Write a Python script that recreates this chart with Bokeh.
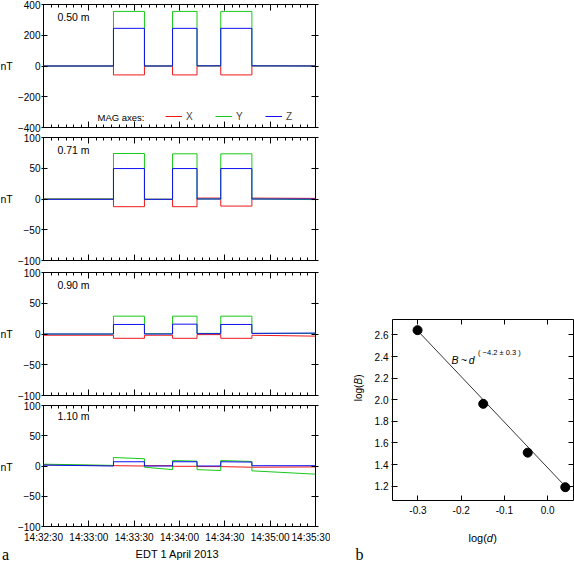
import math
from bokeh.plotting import figure
from bokeh.layouts import row, column
from bokeh.models import (Range1d, FixedTicker, LinearAxis, Label, Legend,
                          LegendItem, NumeralTickFormatter)
from bokeh.embed import file_html
from bokeh.resources import INLINE

# ---------------- data ----------------
# time axis: seconds after 14:32:30 EDT, 1 April 2013
time_ticks = [0, 30, 60, 90, 120, 150, 180]
time_labels = ["14:32:30", "14:33:00", "14:33:30", "14:34:00",
               "14:34:30", "14:35:00", "14:35:30"]
minor_time_ticks = [0, 5, 10, 15, 20, 25, 30, 35, 40, 45, 50, 55, 60, 65, 70,
                    75, 80, 85, 90, 95, 100, 105, 110, 115, 120, 125, 130, 135,
                    140, 145, 150, 155, 160, 165, 170, 175, 180]
x_axis_title = "EDT 1 April 2013"

# breakpoints of the step-like traces (seconds)
t_pts = [0, 46.3, 46.3, 66.8, 66.8, 85.4, 85.4, 101.6, 101.6, 117.3, 117.3,
         137.9, 137.9, 180]

distances = ["0.50 m", "0.71 m", "0.90 m", "1.10 m"]

x_050 = [0, 0, -58, -58, 0, 0, -58, -58, 1, 1, -58, -58, 1, 1]
y_050 = [0, 0, 355, 355, 0, 0, 355, 355, 1, 1, 355, 355, 1, 0]
z_050 = [0, 0, 245, 245, 0, 0, 245, 245, 1, 1, 245, 245, 1, 0]

x_071 = [0, 0, -12.5, -12.5, -0.5, -0.5, -12.5, -12.5, 1.5, 1.5, -11.5, -11.5, 1.5, 1]
y_071 = [0, 0, 74, 74, -0.5, -0.5, 73.5, 73.5, 0, 0, 73.5, 73.5, 0, -1]
z_071 = [-0.5, -0.5, 49.5, 49.5, -0.5, -0.5, 49.5, 49.5, 0, 0, 49.5, 49.5, 0, 0]

x_090 = [-2, -2, -7, -7, -2, -2, -7, -7, -1, -1, -7, -7, -2, -3.5]
y_090 = [0, 0, 29, 29, 0.5, 0.5, 29, 29, 1, 1, 29, 29, 1, 1]
z_090 = [0, 0, 15.5, 15.5, 0, 0, 16, 16, 0.5, 0.5, 15.5, 15.5, 1, 1.5]

x_110 = [2, 0.5, 0.5, 0, 0.5, 0.5, -0.5, -0.5, -1, -1, -1, -2, -2, -1.5]
y_110 = [3, 1, 14, 12, -2, -6, 9, 8, -6, -7.5, 9, 7.5, -8, -13.5]
z_110 = [1.5, 0, 7, 7, 0, 0, 7, 7, 0, 0, 7, 6.5, 0.5, 0.5]

series_x = [x_050, x_071, x_090, x_110]
series_y = [y_050, y_071, y_090, y_110]
series_z = [z_050, z_071, z_090, z_110]

y_limits = [(-400, 400), (-100, 100), (-100, 100), (-100, 100)]
y_ticks = [[-400, -200, 0, 200, 400], [-100, -50, 0, 50, 100],
           [-100, -50, 0, 50, 100], [-100, -50, 0, 50, 100]]
y_unit = "nT"

mag_axes = ["X", "Y", "Z"]

# panel b
log_d = [-0.301, -0.149, -0.046, 0.041]
log_B = [2.644, 1.962, 1.510, 1.190]
fit_log_d = [-0.301, 0.041]
fit_log_B = [2.640, 1.198]
b_xticks = [-0.3, -0.2, -0.1, 0.0]
b_yticks = [1.2, 1.4, 1.6, 1.8, 2.0, 2.2, 2.4, 2.6]

# ---------------- style ----------------
FONT = "Liberation Sans"
SERIF = "Liberation Serif"
RED, GREEN, BLUE = "#f01818", "#18c818", "#1010f0"
TICK_FS = "10px"


def hide_labels(ax):
    ax.major_label_text_color = None
    ax.major_label_standoff = 0
    ax.axis_label = None


def lab(fig, x, y, text, size="10px", style="normal", angle=0.0, font=FONT,
        align="left", baseline="middle"):
    fig.add_layout(Label(x=x, y=y, x_units="screen", y_units="screen", text=text,
                         text_font=font, text_font_size=size,
                         text_font_style=style, text_baseline=baseline,
                         text_align=align, angle=angle, text_color="black"))


def strip(w, h):
    s = figure(width=w, height=h, output_backend="svg", toolbar_location=None,
               x_range=Range1d(0, w), y_range=Range1d(0, h),
               x_axis_location=None, y_axis_location=None,
               min_border=0, min_border_left=0, min_border_right=0,
               min_border_top=0, min_border_bottom=0)
    s.grid.visible = False
    s.outline_line_color = None
    s.background_fill_color = "white"
    s.border_fill_color = "white"
    return s


FRAME_H = 123
borders = [(4, 5), (5, 6), (6, 5), (5, 17)]

panels = []
for i in range(4):
    top, bottom = borders[i]
    last = (i == 3)
    p = figure(width=316, height=top + FRAME_H + bottom, output_backend="svg",
               toolbar_location=None,
               x_range=Range1d(time_ticks[0], time_ticks[-1]),
               y_range=Range1d(*y_limits[i]),
               min_border_left=25, min_border_right=15,
               min_border_top=top, min_border_bottom=bottom)
    p.grid.visible = False
    p.outline_line_color = "black"
    p.outline_line_width = 1
    p.background_fill_color = "white"
    p.border_fill_color = "white"

    # bottom axis
    xa = p.xaxis[0]
    xa.ticker = FixedTicker(ticks=time_ticks, minor_ticks=minor_time_ticks)
    xa.axis_line_color = None
    xa.major_tick_in, xa.major_tick_out = 6, 0
    xa.minor_tick_in, xa.minor_tick_out = 3, 0
    xa.major_tick_line_color = "black"
    xa.minor_tick_line_color = "black"
    if last:
        xa.major_label_overrides = {t: l for t, l in zip(time_ticks, time_labels)}
        xa.major_label_text_font = FONT
        xa.major_label_text_font_size = TICK_FS
        xa.major_label_text_color = "black"
        xa.major_label_standoff = 5
    else:
        hide_labels(xa)

    # top axis
    xt = LinearAxis(ticker=FixedTicker(ticks=time_ticks, minor_ticks=minor_time_ticks))
    xt.axis_line_color = None
    xt.major_tick_in, xt.major_tick_out = 6, 0
    xt.minor_tick_in, xt.minor_tick_out = 3, 0
    hide_labels(xt)
    p.add_layout(xt, "above")

    # left axis
    ya = p.yaxis[0]
    ya.ticker = FixedTicker(ticks=y_ticks[i], minor_ticks=[])
    ya.axis_line_color = None
    ya.major_tick_in, ya.major_tick_out = 4, 2
    ya.minor_tick_line_color = None
    ya.major_label_text_font = FONT
    ya.major_label_text_font_size = TICK_FS
    ya.major_label_text_color = "black"
    ya.major_label_standoff = 1

    # right axis
    yr = LinearAxis(ticker=FixedTicker(ticks=y_ticks[i], minor_ticks=[]))
    yr.axis_line_color = None
    yr.major_tick_in, yr.major_tick_out = 4, 3
    yr.minor_tick_line_color = None
    hide_labels(yr)
    p.add_layout(yr, "right")

    rx = p.line(t_pts, series_x[i], line_color=RED, line_width=1)
    ry = p.line(t_pts, series_y[i], line_color=GREEN, line_width=1)
    rz = p.line(t_pts, series_z[i], line_color=BLUE, line_width=1)

    lab(p, 14, FRAME_H - 12.5, distances[i], size="10.5px")

    if i == 0:
        lab(p, 54, 10.3, "MAG axes:", size="9.5px")
        legend = Legend(items=[LegendItem(label=mag_axes[0], renderers=[rx]),
                               LegendItem(label=mag_axes[1], renderers=[ry]),
                               LegendItem(label=mag_axes[2], renderers=[rz])],
                        orientation="horizontal", location=(122, 5.3),
                        padding=0, margin=0, spacing=22, glyph_width=17,
                        glyph_height=10, label_height=10, label_width=7,
                        label_standoff=4,
                        label_text_font=FONT, label_text_font_size="10px",
                        label_text_baseline="middle",
                        border_line_color=None, background_fill_alpha=0)
        p.add_layout(legend)
    panels.append(p)

heights = [b[0] + FRAME_H + b[1] for b in borders]
total_a = sum(heights)

# strip with the "nT" unit labels left of the panels
nt = strip(14, total_a)
acc = 0
for i in range(4):
    yc = acc + borders[i][0] + FRAME_H / 2
    lab(nt, 0, total_a - yc, y_unit, size="10.5px")
    acc += heights[i]

# strip below the panels: "a" and time-axis title
sa = strip(330, 564 - total_a)
lab(sa, 1.5, 10, "a", size="16px", font=SERIF, baseline="alphabetic")
lab(sa, 177, 11, x_axis_title, size="11px", align="center", baseline="alphabetic")

col_a = column(row(nt, column(*panels, spacing=0), spacing=0), sa, spacing=0)

# ---------------- panel b ----------------
PB_H = 517
pb = figure(width=208, height=PB_H, output_backend="svg", toolbar_location=None,
            x_range=Range1d(-0.359, 0.060), y_range=Range1d(1.067, 2.743),
            min_border_left=26, min_border_right=1, min_border_top=319,
            min_border_bottom=17)
pb.grid.visible = False
pb.outline_line_color = "black"
pb.background_fill_color = "white"
pb.border_fill_color = "white"

bx = pb.xaxis[0]
bx.ticker = FixedTicker(ticks=b_xticks, minor_ticks=[])
bx.formatter = NumeralTickFormatter(format="0.0")
bx.axis_line_color = None
bx.major_tick_in, bx.major_tick_out = 5, 0
bx.minor_tick_line_color = None
bx.major_label_text_font = FONT
bx.major_label_text_font_size = TICK_FS
bx.major_label_text_color = "black"
bx.major_label_standoff = 5

bt = LinearAxis(ticker=FixedTicker(ticks=b_xticks, minor_ticks=[]))
bt.axis_line_color = None
bt.major_tick_in, bt.major_tick_out = 5, 0
bt.minor_tick_line_color = None
hide_labels(bt)
pb.add_layout(bt, "above")

by = pb.yaxis[0]
by.ticker = FixedTicker(ticks=b_yticks, minor_ticks=[])
by.formatter = NumeralTickFormatter(format="0.0")
by.axis_line_color = None
by.major_tick_in, by.major_tick_out = 5, 1
by.minor_tick_line_color = None
by.major_label_text_font = FONT
by.major_label_text_font_size = TICK_FS
by.major_label_text_color = "black"
by.major_label_standoff = 3

br = LinearAxis(ticker=FixedTicker(ticks=b_yticks, minor_ticks=[]))
br.axis_line_color = None
br.major_tick_in, br.major_tick_out = 5, 0
br.minor_tick_line_color = None
hide_labels(br)
pb.add_layout(br, "right")

pb.line(fit_log_d, fit_log_B, line_color="black", line_width=0.8)
pb.scatter(log_d, log_B, size=9, color="black")

# annotation  B ~ d^(-4.2 ± 0.3)
lab(pb, 59, 141, "B", size="10.5px", style="italic")
lab(pb, 68.5, 141, "~", size="10.5px")
lab(pb, 76.3, 141, "d", size="10.5px", style="italic")
lab(pb, 85.5, 148, "( \u22124.2 \u00b1 0.3 )", size="7.5px")

# strip left of panel b: rotated y title log(B)
lb = strip(36, PB_H)
lab(lb, 28, 99.2, "log(", size="10px", angle=math.pi / 2)
lab(lb, 28, 115.9, "B", size="10px", style="italic", angle=math.pi / 2)
lab(lb, 28, 122.8, ")", size="10px", angle=math.pi / 2)

# strip below panel b: x title log(d) and "b"
sb = strip(244, 564 - PB_H)
lab(sb, 138, 27, "log(", size="11px", baseline="alphabetic")
lab(sb, 156.3, 27, "d", size="11px", style="italic", baseline="alphabetic")
lab(sb, 162.8, 27, ")", size="11px", baseline="alphabetic")
lab(sb, 25, 10, "b", size="16px", font=SERIF, baseline="alphabetic")

col_b = column(row(lb, pb, spacing=0), sb, spacing=0)

layout = row(col_a, col_b, spacing=0)

with open("out.html", "w") as f:
    f.write(file_html(layout, INLINE))
